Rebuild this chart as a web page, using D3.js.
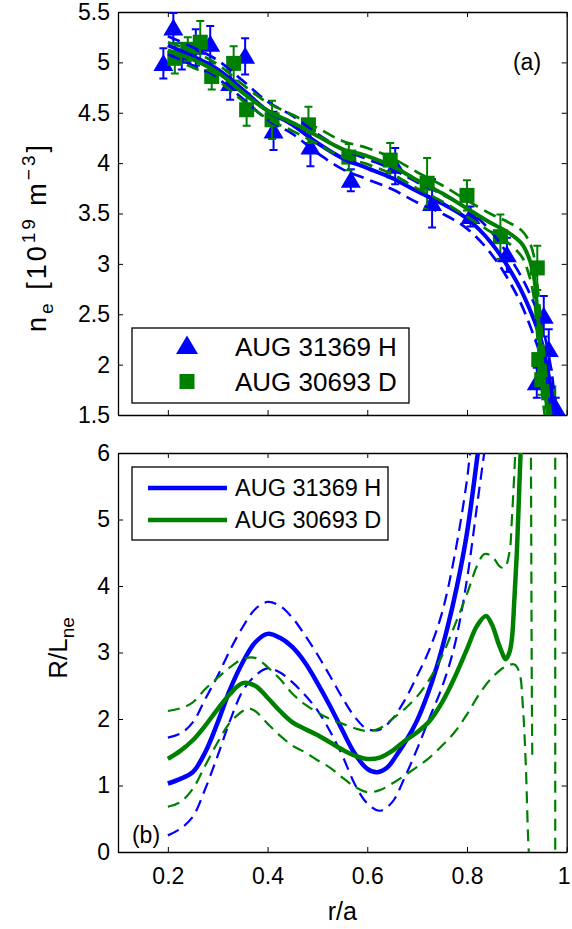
<!DOCTYPE html>
<html>
<head>
<meta charset="utf-8">
<script src="https://cdn.jsdelivr.net/npm/d3@7"></script>
<style>
body { margin: 0; background: #fff; }
svg { display: block; font-family: "Liberation Sans", Arial, sans-serif; }
</style>
</head>
<body>
<div id="chart"></div>
<script>
// ---- panel (a): measured density points, r/a, value, error ----
var hR   = [0.191, 0.211, 0.228, 0.256, 0.285, 0.325, 0.355, 0.412, 0.486, 0.567, 0.656, 0.730, 0.807, 0.880, 0.954, 0.964, 0.940, 0.978];
var hNe  = [4.99, 5.34, 5.06, 5.15, 5.18, 4.79, 5.06, 4.32, 4.16, 3.83, 3.97, 3.60, 3.47, 3.09, 2.48, 2.15, 1.82, 1.57];
var hErr = [0.15, 0.15, 0.13, 0.18, 0.18, 0.16, 0.18, 0.19, 0.19, 0.11, 0.18, 0.24, 0.10, 0.17, 0.20, 0.20, 0.15, 0.10];

var dR   = [0.214, 0.240, 0.265, 0.288, 0.332, 0.358, 0.409, 0.482, 0.563, 0.646, 0.720, 0.800, 0.867, 0.941, 0.944, 0.950, 0.964];
var dNe  = [5.04, 5.13, 5.20, 4.86, 4.99, 4.53, 4.43, 4.38, 4.06, 4.03, 3.80, 3.68, 3.27, 2.96, 2.05, 1.85, 1.72];
var dErr = [0.15, 0.12, 0.21, 0.13, 0.17, 0.16, 0.19, 0.18, 0.13, 0.17, 0.25, 0.15, 0.22, 0.22, 0.20, 0.15, 0.15];

// fitted profiles (a)
var fitHR  = [0.2, 0.25, 0.3, 0.35, 0.4, 0.45, 0.5, 0.55, 0.6, 0.65, 0.7, 0.75, 0.8, 0.85, 0.9, 0.93, 0.95, 0.97, 0.975, 0.985];
var fitH   = [5.17, 5.06, 4.93, 4.73, 4.52, 4.38, 4.20, 4.05, 3.95, 3.85, 3.72, 3.60, 3.45, 3.20, 2.82, 2.50, 2.22, 1.70, 1.45, 1.20];
var fitHUp = [5.26, 5.15, 5.02, 4.82, 4.61, 4.47, 4.29, 4.14, 4.04, 3.94, 3.81, 3.69, 3.55, 3.31, 2.95, 2.66, 2.40, 1.92, 1.70, 1.40];
var fitHLo = [5.08, 4.97, 4.84, 4.64, 4.43, 4.29, 4.10, 3.94, 3.84, 3.74, 3.61, 3.50, 3.35, 3.09, 2.69, 2.34, 2.04, 1.50, 1.25, 1.00];

var fitDR  = [0.2, 0.25, 0.3, 0.35, 0.4, 0.45, 0.5, 0.55, 0.6, 0.65, 0.7, 0.75, 0.8, 0.85, 0.88, 0.91, 0.925, 0.935, 0.94, 0.945, 0.953, 0.963, 0.97];
var fitD   = [5.12, 5.03, 4.90, 4.70, 4.52, 4.40, 4.27, 4.14, 4.07, 3.97, 3.83, 3.70, 3.55, 3.40, 3.32, 3.20, 3.05, 2.85, 2.60, 2.33, 1.90, 1.48, 1.20];
var fitDUp = [5.20, 5.11, 4.98, 4.78, 4.60, 4.48, 4.35, 4.22, 4.15, 4.05, 3.91, 3.78, 3.63, 3.49, 3.42, 3.33, 3.22, 3.06, 2.85, 2.60, 2.18, 1.75, 1.45];
var fitDLo = [5.04, 4.95, 4.82, 4.62, 4.44, 4.32, 4.19, 4.06, 3.99, 3.89, 3.75, 3.62, 3.47, 3.31, 3.22, 3.07, 2.88, 2.64, 2.35, 2.06, 1.62, 1.22, 0.95];

// ---- panel (b): normalised gradient R/L_ne ----
var gHR   = [0.2, 0.225, 0.25, 0.275, 0.3, 0.325, 0.35, 0.375, 0.4, 0.425, 0.45, 0.475, 0.5, 0.525, 0.55, 0.575, 0.6, 0.62, 0.64, 0.66, 0.68, 0.7, 0.72, 0.74, 0.76, 0.78, 0.8, 0.82, 0.83];
var gH    = [1.03, 1.10, 1.20, 1.50, 1.95, 2.45, 2.85, 3.15, 3.28, 3.22, 3.08, 2.85, 2.54, 2.20, 1.83, 1.48, 1.25, 1.20, 1.27, 1.47, 1.70, 1.98, 2.35, 2.80, 3.35, 4.00, 4.80, 5.90, 6.50];
var gHUpR = [0.2, 0.225, 0.25, 0.275, 0.3, 0.325, 0.35, 0.375, 0.4, 0.425, 0.45, 0.475, 0.5, 0.525, 0.55, 0.575, 0.6, 0.625, 0.65, 0.675, 0.7, 0.725, 0.75, 0.775, 0.8, 0.81];
var gHUp  = [1.72, 1.78, 1.95, 2.30, 2.65, 3.04, 3.38, 3.65, 3.76, 3.70, 3.52, 3.26, 2.97, 2.65, 2.32, 2.03, 1.85, 1.84, 2.00, 2.28, 2.65, 3.05, 3.60, 4.45, 5.60, 6.30];
var gHLoR = [0.2, 0.225, 0.25, 0.275, 0.3, 0.325, 0.35, 0.375, 0.4, 0.425, 0.45, 0.475, 0.5, 0.525, 0.55, 0.575, 0.6, 0.625, 0.65, 0.675, 0.7, 0.725, 0.75, 0.775, 0.8, 0.82, 0.84];
var gHLo  = [0.25, 0.35, 0.53, 0.95, 1.45, 1.98, 2.42, 2.65, 2.76, 2.70, 2.55, 2.36, 2.13, 1.82, 1.45, 1.02, 0.73, 0.62, 0.75, 1.12, 1.55, 2.02, 2.48, 3.10, 4.10, 5.20, 6.30];

var gDR   = [0.2, 0.225, 0.25, 0.275, 0.3, 0.325, 0.35, 0.375, 0.4, 0.425, 0.45, 0.475, 0.5, 0.525, 0.55, 0.575, 0.6, 0.625, 0.65, 0.675, 0.7, 0.725, 0.75, 0.775, 0.8, 0.82, 0.838, 0.85, 0.865, 0.878, 0.885, 0.89, 0.895, 0.9, 0.905, 0.91];
var gD    = [1.40, 1.52, 1.68, 1.90, 2.15, 2.38, 2.54, 2.50, 2.32, 2.12, 1.95, 1.85, 1.76, 1.65, 1.54, 1.45, 1.40, 1.42, 1.52, 1.67, 1.80, 1.97, 2.25, 2.62, 3.05, 3.40, 3.55, 3.42, 3.10, 2.90, 3.00, 3.20, 3.80, 4.50, 5.50, 6.50];
var gDUpR = [0.2, 0.225, 0.25, 0.275, 0.3, 0.325, 0.35, 0.375, 0.4, 0.425, 0.45, 0.475, 0.5, 0.525, 0.55, 0.575, 0.6, 0.625, 0.65, 0.675, 0.7, 0.725, 0.75, 0.775, 0.8, 0.82, 0.835, 0.85, 0.865, 0.875, 0.885, 0.89, 0.9];
var gDUp  = [2.12, 2.16, 2.25, 2.45, 2.62, 2.78, 2.90, 2.92, 2.78, 2.60, 2.38, 2.22, 2.10, 2.00, 1.93, 1.86, 1.82, 1.86, 2.00, 2.15, 2.34, 2.60, 2.95, 3.40, 3.88, 4.30, 4.48, 4.45, 4.30, 4.27, 4.50, 5.00, 6.50];
var gDLoR = [0.2, 0.225, 0.25, 0.275, 0.3, 0.325, 0.35, 0.36, 0.375, 0.4, 0.425, 0.45, 0.475, 0.5, 0.525, 0.55, 0.575, 0.6, 0.625, 0.65, 0.675, 0.7, 0.725, 0.75, 0.775, 0.8, 0.825, 0.85, 0.875, 0.895, 0.905, 0.912, 0.918, 0.924, 0.93];
var gDLo  = [0.68, 0.75, 0.95, 1.30, 1.65, 1.95, 2.12, 2.16, 2.12, 1.93, 1.75, 1.60, 1.50, 1.38, 1.27, 1.12, 0.98, 0.90, 0.93, 1.03, 1.15, 1.28, 1.42, 1.60, 1.80, 2.07, 2.38, 2.62, 2.78, 2.82, 2.70, 2.20, 1.30, 0.00, -0.50];
// the band blows up near the edge
var gDEdge1R = [0.928, 0.929, 0.930, 0.931];
var gDEdge1  = [6.50, 4.50, 2.50, 1.40];
var gDEdge2R = [0.977, 0.977];
var gDEdge2  = [6.50, -0.50];

var xTicks = [0.2, 0.4, 0.6, 0.8, 1];
var yTicksA = [1.5, 2, 2.5, 3, 3.5, 4, 4.5, 5, 5.5];
var yTicksB = [0, 1, 2, 3, 4, 5, 6];
var names = ["AUG 31369 H", "AUG 30693 D"];
var colH = "#0000ff", colD = "#008000";

var W = 572, H = 929;
var svg = d3.select("#chart").append("svg").attr("width", W).attr("height", H);

var x = d3.scaleLinear().domain([0.1, 1]).range([118, 566.7]);
var yA = d3.scaleLinear().domain([1.5, 5.5]).range([415, 12]);
var yB = d3.scaleLinear().domain([0, 6]).range([852, 453]);

function zip(rs, vs) { return rs.map(function(r, i) { return [r, vs[i]]; }); }

function frame(y, ticks, labels, cls) {
    var x0 = x.range()[0], x1 = x.range()[1], y0 = y.range()[0], y1 = y.range()[1];
    svg.append("clipPath").attr("id", "clip-" + cls).append("rect")
        .attr("x", x0).attr("y", y1).attr("width", x1 - x0).attr("height", y0 - y1);
    var left = d3.axisLeft(y).tickValues(ticks).tickSizeInner(-5).tickSizeOuter(0).tickPadding(8)
        .tickFormat(d3.format(""));
    var right = d3.axisRight(y).tickValues(ticks).tickSizeInner(-5).tickSizeOuter(0).tickFormat("");
    var bottom = d3.axisBottom(x).tickValues(xTicks).tickSizeInner(-5).tickSizeOuter(0).tickPadding(16)
        .tickFormat(labels ? d3.format("") : "");
    var top = d3.axisTop(x).tickValues(xTicks).tickSizeInner(-5).tickSizeOuter(0).tickFormat("");
    var ax = svg.append("g").attr("class", "axes-" + cls);
    ax.append("g").attr("transform", "translate(" + x0 + ",0)").call(left);
    ax.append("g").attr("transform", "translate(" + x1 + ",0)").call(right);
    var bx = ax.append("g").attr("transform", "translate(0," + y0 + ")").call(bottom);
    ax.append("g").attr("transform", "translate(0," + y1 + ")").call(top);
    ax.selectAll("path.domain").attr("stroke", "#000").attr("stroke-width", 1.3);
    ax.selectAll(".tick line").attr("stroke", "#000").attr("stroke-width", 1);
    ax.selectAll(".tick text").attr("font-size", 23).attr("fill", "#000")
        .attr("font-family", "Liberation Sans, Arial, sans-serif");
    // keep the last label ("1") inside the page
    bx.selectAll(".tick text").filter(function(d) { return d === 1; }).attr("dx", -3);
    return ax;
}

function curve(g, lg, rs, vs, col, w, dash) {
    g.append("path").attr("d", lg(zip(rs, vs))).attr("fill", "none").attr("stroke", col)
        .attr("stroke-width", w).attr("stroke-dasharray", dash || null);
}

// ================= panel (a) =================
frame(yA, yTicksA, false, "a");
var pa = svg.append("g").attr("clip-path", "url(#clip-a)");
var la = d3.line().x(function(d) { return x(d[0]); }).y(function(d) { return yA(d[1]); })
    .curve(d3.curveCatmullRom.alpha(0.5));

function errorBars(g, rs, vs, es, col) {
    var gg = g.append("g").attr("stroke", col).attr("stroke-width", 2);
    rs.forEach(function(r, i) {
        var cx = x(r), t = yA(vs[i] + es[i]), b = yA(vs[i] - es[i]);
        gg.append("line").attr("x1", cx).attr("x2", cx).attr("y1", t).attr("y2", b);
        gg.append("line").attr("x1", cx - 4).attr("x2", cx + 4).attr("y1", t).attr("y2", t);
        gg.append("line").attr("x1", cx - 4).attr("x2", cx + 4).attr("y1", b).attr("y2", b);
    });
}
var triPath = "M0,-9.5L10,7.5L-10,7.5Z";

errorBars(pa, hR, hNe, hErr, colH);
pa.append("g").selectAll("path").data(zip(hR, hNe)).enter().append("path")
    .attr("d", triPath).attr("fill", colH)
    .attr("transform", function(d) { return "translate(" + x(d[0]) + "," + yA(d[1]) + ")"; });
errorBars(pa, dR, dNe, dErr, colD);
pa.append("g").selectAll("rect").data(zip(dR, dNe)).enter().append("rect")
    .attr("x", function(d) { return x(d[0]) - 7.5; }).attr("y", function(d) { return yA(d[1]) - 7.5; })
    .attr("width", 15).attr("height", 15).attr("fill", colD);

curve(pa, la, fitHR, fitHUp, colH, 2.7, "13,7");
curve(pa, la, fitHR, fitHLo, colH, 2.7, "13,7");
curve(pa, la, fitHR, fitH, colH, 4);
curve(pa, la, fitDR, fitDUp, colD, 2.7, "13,7");
curve(pa, la, fitDR, fitDLo, colD, 2.7, "13,7");
curve(pa, la, fitDR, fitD, colD, 4);

svg.append("text").attr("x", 527).attr("y", 70).attr("text-anchor", "middle")
    .attr("font-size", 23).text("(a)");

// legend (a)
var lgA = svg.append("g");
lgA.append("rect").attr("x", 132).attr("y", 328).attr("width", 277).attr("height", 75)
    .attr("fill", "#fff").attr("stroke", "#000").attr("stroke-width", 1.3);
lgA.append("path").attr("d", "M0,-10.5L11,8L-11,8Z").attr("fill", colH)
    .attr("transform", "translate(187,346)");
lgA.append("rect").attr("x", 179.5).attr("y", 374).attr("width", 15).attr("height", 15).attr("fill", colD);
names.forEach(function(n, i) {
    lgA.append("text").attr("x", 235).attr("y", 356 + i * 35).attr("font-size", 26).text(n);
});

// y label (a)
var ta = svg.append("text").attr("transform", "translate(46,237) rotate(-90)")
    .attr("text-anchor", "middle").attr("font-size", 27).attr("letter-spacing", 3);
ta.append("tspan").text("n");
ta.append("tspan").attr("font-size", 19).attr("dy", 7).text("e");
ta.append("tspan").attr("dy", -7).text(" [10");
ta.append("tspan").attr("font-size", 19).attr("dy", -11).text("19");
ta.append("tspan").attr("dy", 11).text(" m");
ta.append("tspan").attr("font-size", 19).attr("dy", -11).text("\u22123");
ta.append("tspan").attr("dy", 11).text("]");

// ================= panel (b) =================
frame(yB, yTicksB, true, "b");
var pb = svg.append("g").attr("clip-path", "url(#clip-b)");
var lb = d3.line().x(function(d) { return x(d[0]); }).y(function(d) { return yB(d[1]); })
    .curve(d3.curveCatmullRom.alpha(0.5));

curve(pb, lb, gHUpR, gHUp, colH, 2.2, "12,7");
curve(pb, lb, gHLoR, gHLo, colH, 2.2, "12,7");
curve(pb, lb, gHR, gH, colH, 4.5);
curve(pb, lb, gDUpR, gDUp, colD, 2.2, "12,7");
curve(pb, lb, gDLoR, gDLo, colD, 2.2, "12,7");
curve(pb, lb, gDEdge1R, gDEdge1, colD, 2.2, "12,7");
curve(pb, lb, gDEdge2R, gDEdge2, colD, 2.2, "12,7");
curve(pb, lb, gDR, gD, colD, 4.5);

svg.append("text").attr("x", 146).attr("y", 843).attr("text-anchor", "middle")
    .attr("font-size", 23).text("(b)");

// legend (b)
var lgB = svg.append("g");
lgB.append("rect").attr("x", 132).attr("y", 467).attr("width", 256).attr("height", 73)
    .attr("fill", "#fff").attr("stroke", "#000").attr("stroke-width", 1.3);
[colH, colD].forEach(function(c, i) {
    lgB.append("line").attr("x1", 148).attr("x2", 227).attr("y1", 488 + i * 32).attr("y2", 488 + i * 32)
        .attr("stroke", c).attr("stroke-width", 4.5);
    lgB.append("text").attr("x", 235).attr("y", 496 + i * 32).attr("font-size", 23.5).text(names[i]);
});

// y label (b)
var tb = svg.append("text").attr("transform", "translate(67,648) rotate(-90)")
    .attr("text-anchor", "middle").attr("font-size", 26);
tb.append("tspan").text("R/L");
tb.append("tspan").attr("font-size", 19).attr("dy", 7).text("ne");

// x label
svg.append("text").attr("x", x(0.55)).attr("y", 920).attr("text-anchor", "middle")
    .attr("font-size", 25).text("r/a");
</script>
</body>
</html>
